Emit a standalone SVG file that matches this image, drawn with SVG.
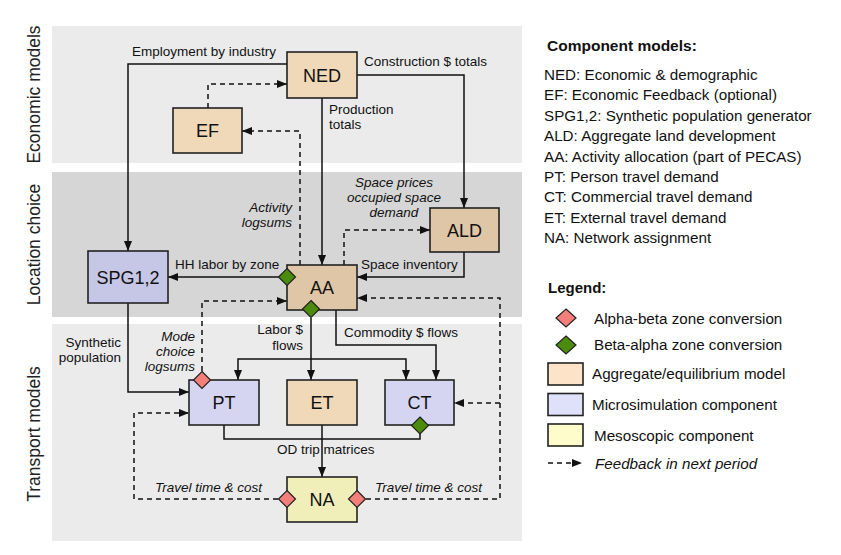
<svg xmlns="http://www.w3.org/2000/svg" width="841" height="555" viewBox="0 0 841 555">
<defs>
<marker id="arr" markerUnits="userSpaceOnUse" markerWidth="11" markerHeight="9" refX="10" refY="4" orient="auto">
<path d="M0,0 L10,4 L0,8 z" fill="#111"/>
</marker>
<style>
.band1{fill:#ebebeb}
.band2{fill:#d6d6d6}
.vlab{font-family:"Liberation Sans",Arial,sans-serif;font-size:17.5px;fill:#222;text-anchor:middle}
.box{stroke:#222;stroke-width:1.6}
.peach{fill:#f0d9b8}
.tan{fill:#dfc6a6}
.lavd{fill:#c6c6e6}
.lav{fill:#d5d5f1}
.yel{fill:#f0efba}
.nt{font-family:"Liberation Sans",Arial,sans-serif;font-size:18px;fill:#111;text-anchor:middle}
.c{fill:none;stroke:#111;stroke-width:1.5}
.d{fill:none;stroke:#111;stroke-width:1.5;stroke-dasharray:5,4}
.lb{font-family:"Liberation Sans",Arial,sans-serif;font-size:13.5px;fill:#111}
.it{font-style:italic}
.red{fill:#f47f7a;stroke:#222;stroke-width:1.2}
.grn{fill:#4b8b0d;stroke:#222;stroke-width:1.2}
.lg{font-family:"Liberation Sans",Arial,sans-serif;font-size:15.2px;fill:#111}
.lh{font-family:"Liberation Sans",Arial,sans-serif;font-size:15.5px;font-weight:bold;fill:#111}
</style>
</defs>
<rect width="841" height="555" fill="#ffffff"/>
<!-- bands -->
<rect class="band1" x="52" y="26" width="470" height="137"/>
<rect class="band2" x="52" y="172" width="470" height="145"/>
<rect class="band1" x="52" y="324" width="470" height="217"/>
<text class="vlab" transform="translate(39.5,94.5) rotate(-90)">Economic models</text>
<text class="vlab" transform="translate(39.5,244.5) rotate(-90)">Location choice</text>
<text class="vlab" transform="translate(39.5,434) rotate(-90)">Transport models</text>

<!-- connectors -->
<g id="connectors">
<path class="c" d="M287,64 H128 V251" marker-end="url(#arr)"/>
<path class="d" d="M208,108 V84 H287" marker-end="url(#arr)"/>
<path class="d" d="M300,265 V131 H242" marker-end="url(#arr)"/>
<path class="c" d="M322,98 V265" marker-end="url(#arr)"/>
<path class="c" d="M357,75 H464 V208" marker-end="url(#arr)"/>
<path class="d" d="M344,265 V230 H430" marker-end="url(#arr)"/>
<path class="c" d="M464,252 V277 H357" marker-end="url(#arr)"/>
<path class="c" d="M279,277 H168" marker-end="url(#arr)"/>
<path class="d" d="M202,371 V301 H287" marker-end="url(#arr)"/>
<path class="c" d="M128,303 V392 H189" marker-end="url(#arr)"/>
<path class="c" d="M311,318 V380" marker-end="url(#arr)"/>
<path class="c" d="M311,359 H238 V380" marker-end="url(#arr)"/>
<path class="c" d="M311,359 H406 V380" marker-end="url(#arr)"/>
<path class="c" d="M336,310 V345 H436 V380" marker-end="url(#arr)"/>
<path class="d" d="M366,499 H500 V298 H357" marker-end="url(#arr)"/>
<path class="d" d="M500,403 H454" marker-end="url(#arr)"/>
<path class="d" d="M278,499 H134 V413 H189" marker-end="url(#arr)"/>
<path class="c" d="M224,425 V439 H420 V434"/>
<path class="c" d="M322,425 V477" marker-end="url(#arr)"/>
<text class="lb" x="132" y="56">Employment by industry</text>
<text class="lb" x="364" y="66">Construction $ totals</text>
<text class="lb" x="329" y="114">Production</text>
<text class="lb" x="329" y="129">totals</text>
<text class="lb it" x="292" y="212" text-anchor="end">Activity</text>
<text class="lb it" x="292" y="227" text-anchor="end">logsums</text>
<text class="lb it" x="394" y="187" text-anchor="middle">Space prices</text>
<text class="lb it" x="394" y="202" text-anchor="middle">occupied space</text>
<text class="lb it" x="394" y="217" text-anchor="middle">demand</text>
<text class="lb" x="361" y="269">Space inventory</text>
<text class="lb" x="175" y="269">HH labor by zone</text>
<text class="lb it" x="195" y="341" text-anchor="end">Mode</text>
<text class="lb it" x="195" y="356" text-anchor="end">choice</text>
<text class="lb it" x="195" y="371" text-anchor="end">logsums</text>
<text class="lb" x="121" y="347" text-anchor="end">Synthetic</text>
<text class="lb" x="121" y="362" text-anchor="end">population</text>
<text class="lb" x="303" y="334" text-anchor="end">Labor $</text>
<text class="lb" x="303" y="350" text-anchor="end">flows</text>
<text class="lb" x="344" y="337">Commodity $ flows</text>
<text class="lb" x="277" y="454">OD trip matrices</text>
<text class="lb it" x="155" y="492">Travel time &amp; cost</text>
<text class="lb it" x="375" y="492">Travel time &amp; cost</text>
</g>

<!-- nodes -->
<g id="NED"><rect class="box peach" x="287" y="52" width="70" height="46"/><text class="nt" x="322" y="81.5">NED</text></g>
<g id="EF"><rect class="box peach" x="173" y="108" width="69" height="45"/><text class="nt" x="207.5" y="137">EF</text></g>
<g id="ALD"><rect class="box tan" x="430" y="208" width="69" height="44"/><text class="nt" x="464.5" y="236.5">ALD</text></g>
<g id="AA"><rect class="box tan" x="287" y="265" width="70" height="45"/><text class="nt" x="322" y="294">AA</text>
<path class="grn" d="M287,268.5 L295.5,277 L287,285.5 L278.5,277 z"/>
<path class="grn" d="M311,300.5 L319.5,309 L311,317.5 L302.5,309 z"/></g>
<g id="SPG"><rect class="box lavd" x="88" y="251" width="80" height="52"/><text class="nt" x="128" y="283.5">SPG1,2</text></g>
<g id="PT"><rect class="box lav" x="189" y="380" width="70" height="45"/><text class="nt" x="224" y="409">PT</text>
<path class="red" d="M202,371.5 L210.5,380 L202,388.5 L193.5,380 z"/></g>
<g id="ET"><rect class="box peach" x="287" y="380" width="70" height="45"/><text class="nt" x="322" y="409">ET</text></g>
<g id="CT"><rect class="box lav" x="385" y="380" width="69" height="45"/><text class="nt" x="419.5" y="409">CT</text>
<path class="grn" d="M420,417 L428.5,425.5 L420,434 L411.5,425.5 z"/></g>
<g id="NA"><rect class="box yel" x="287" y="477" width="70" height="45"/><text class="nt" x="322" y="506">NA</text>
<path class="red" d="M287,490.5 L295.5,499 L287,507.5 L278.5,499 z"/>
<path class="red" d="M357,490.5 L365.5,499 L357,507.5 L348.5,499 z"/></g>

<!-- legend -->
<g id="legend">
<text class="lh" x="547" y="51">Component models:</text>
<text class="lg" x="544" y="80">NED: Economic &amp; demographic</text>
<text class="lg" x="544" y="100.4">EF: Economic Feedback (optional)</text>
<text class="lg" x="544" y="120.8">SPG1,2: Synthetic population generator</text>
<text class="lg" x="544" y="141.2">ALD: Aggregate land development</text>
<text class="lg" x="544" y="161.6">AA: Activity allocation (part of PECAS)</text>
<text class="lg" x="544" y="182">PT: Person travel demand</text>
<text class="lg" x="544" y="202.4">CT: Commercial travel demand</text>
<text class="lg" x="544" y="222.8">ET: External travel demand</text>
<text class="lg" x="544" y="243.2">NA: Network assignment</text>
<text class="lh" x="548" y="293" style="font-size:15px">Legend:</text>
<path class="red" d="M566,309 L576,318 L566,327 L556,318 z"/>
<text class="lg" x="594" y="323.5">Alpha-beta zone conversion</text>
<path class="grn" d="M566,336 L576,345 L566,354 L556,345 z"/>
<text class="lg" x="594" y="350">Beta-alpha zone conversion</text>
<rect class="box" x="548" y="363" width="35" height="22" fill="#fde3c8"/>
<text class="lg" x="592" y="379">Aggregate/equilibrium model</text>
<rect class="box" x="548" y="393.5" width="35" height="22" fill="#dfe0fa"/>
<text class="lg" x="592" y="410">Microsimulation component</text>
<rect class="box" x="548" y="424" width="35" height="22" fill="#fefccb"/>
<text class="lg" x="594" y="441">Mesoscopic component</text>
<path class="d" d="M548,463 H582" marker-end="url(#arr)"/>
<text class="lg it" x="595" y="469">Feedback in next period</text>
</g>
</svg>
